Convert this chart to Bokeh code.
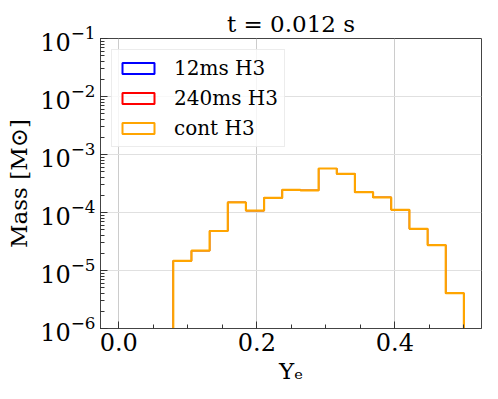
import numpy as np
from bokeh.plotting import figure
from bokeh.models import FixedTicker, LogTicker, Legend, LegendItem, Range1d
from bokeh.embed import file_html
from bokeh.resources import INLINE

# ---- data ----
bin_edges = [0.0789, 0.1053, 0.1316, 0.1579, 0.1842, 0.2105, 0.2368, 0.2632, 0.2895,
             0.3158, 0.3421, 0.3684, 0.3947, 0.4211, 0.4474, 0.4737, 0.5000]
mass_12ms = [1.47e-5, 2.2e-5, 4.8e-5, 1.49e-4, 1.08e-4, 1.79e-4, 2.46e-4, 2.40e-4,
             5.74e-4, 4.65e-4, 2.24e-4, 1.82e-4, 1.11e-4, 5.24e-5, 2.74e-5, 4.07e-6]
mass_240ms = list(mass_12ms)
mass_cont = list(mass_12ms)
series_names = ["12ms H3", "240ms H3", "cont H3"]
series_colors = ["#0000ff", "#ff0000", "#ffa500"]
series_widths = [1.2, 1.2, 2.2]
x_ticks = [0.0, 0.2, 0.4]
x_minor = [0.05, 0.1, 0.15, 0.25, 0.3, 0.35, 0.45, 0.5]
title_text = "t = 0.012 s"
FLOOR = 1e-9

SERIF = "DejaVu Serif"

p = figure(output_backend="svg", toolbar_location=None,
           y_axis_type="log",
           x_range=Range1d(-0.0265, 0.5255), y_range=Range1d(1e-6, 1e-1),
           frame_width=381, frame_height=290,
           min_border_left=100, min_border_right=12, min_border_top=38, min_border_bottom=58,
           background_fill_color="white", border_fill_color="white")

def step_xy(edges, vals):
    e = np.asarray(edges)
    v = np.asarray(vals)
    xs = np.repeat(e, 2)
    ys = np.concatenate([[FLOOR], np.repeat(v, 2), [FLOOR]])
    return xs, ys

items = []
for name, col, lw, vals in zip(series_names, series_colors, series_widths,
                               [mass_12ms, mass_240ms, mass_cont]):
    xs, ys = step_xy(bin_edges, vals)
    p.line(xs, ys, line_color=col, line_width=lw)
    dummy = p.rect(x=[np.nan], y=[np.nan], width=0.01, height=0.01,
                   fill_alpha=0, line_color=col, line_width=2)
    items.append(LegendItem(label=name, renderers=[dummy]))

legend = Legend(items=items, location="top_left", margin=11,
                label_text_font=SERIF, label_text_font_size="20px",
                label_text_color="black",
                glyph_width=40, glyph_height=14, label_standoff=16,
                label_height=22, spacing=6, padding=6,
                border_line_color="#d9d9d9", border_line_width=1,
                background_fill_color="white", background_fill_alpha=0.8)
p.add_layout(legend, "center")

# title
p.title.text = title_text
p.title.align = "center"
p.title.text_font = SERIF
p.title.text_font_size = "23px"
p.title.text_font_style = "normal"
p.title.text_color = "black"
p.title.standoff = 4

# axes
p.xaxis.ticker = FixedTicker(ticks=x_ticks, minor_ticks=x_minor)
p.xaxis.major_label_overrides = {0.0: "0.0", 0.2: "0.2", 0.4: "0.4"}
p.yaxis.ticker = LogTicker(num_minor_ticks=10)
for ax in (p.xaxis, p.yaxis):
    ax.major_tick_in = 7
    ax.major_tick_out = 0
    ax.minor_tick_in = 4
    ax.minor_tick_out = 0
    ax.axis_line_color = "#444444"
    ax.major_tick_line_color = "#333333"
    ax.minor_tick_line_color = "#333333"
    ax.major_label_text_font = SERIF
    ax.major_label_text_font_size = "24px"
    ax.major_label_text_color = "black"
    ax.axis_label_text_font = SERIF
    ax.axis_label_text_font_size = "23px"
    ax.axis_label_text_font_style = "normal"
    ax.axis_label_text_color = "black"
p.xaxis.major_label_standoff = 4
p.yaxis.major_label_standoff = 5
p.xaxis.axis_label = "Yₑ"
p.yaxis.axis_label = "Mass [M⊙]"
p.xaxis.axis_label_standoff = 4
p.yaxis.axis_label_standoff = 5

p.outline_line_color = "#444444"
p.xgrid.grid_line_color = "#cccccc"
p.ygrid.grid_line_color = "#e0e0e0"
p.xgrid.ticker = FixedTicker(ticks=x_ticks)

open("out.html", "w").write(file_html(p, INLINE))
